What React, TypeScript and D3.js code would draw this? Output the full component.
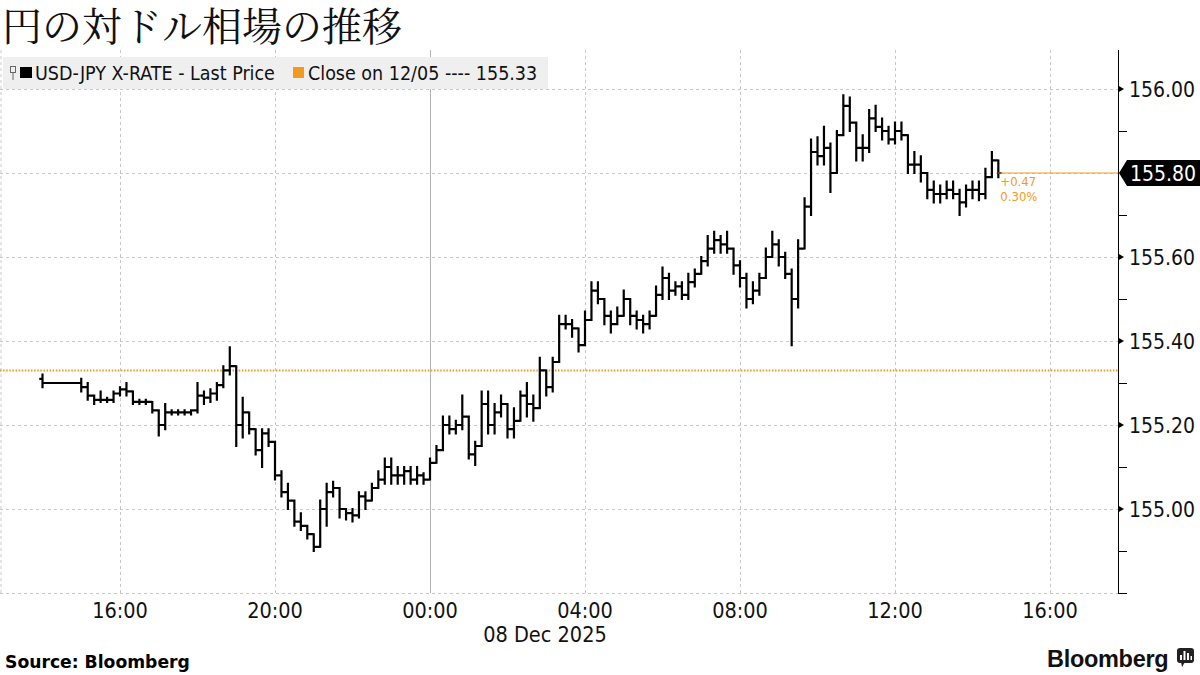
import React from 'react';
import * as d3 from 'd3';

// ---- data (10-minute bars, USD-JPY) ----
const startTime = new Date(2025, 11, 7, 14, 0);
const barMinutes = 10;
const firstOpen = 155.31;
const highs = [
  155.32, 155.30, 155.30, 155.30, 155.30, 155.30,
  155.31, 155.30, 155.27, 155.28, 155.265, 155.28,
  155.29, 155.30, 155.28, 155.26, 155.26, 155.255,
  155.235, 155.25, 155.235, 155.235, 155.235, 155.235,
  155.30, 155.28, 155.285, 155.30, 155.34, 155.385,
  155.34, 155.265, 155.23, 155.19, 155.19, 155.19,
  155.16, 155.09, 155.06, 155.02, 154.99, 154.96,
  154.94, 155.02, 155.06, 155.065, 155.05, 155.00,
  155.00, 155.04, 155.04, 155.06, 155.09, 155.12,
  155.12, 155.10, 155.10, 155.10, 155.10, 155.085,
  155.12, 155.15, 155.22, 155.22, 155.21, 155.27,
  155.22, 155.16, 155.28, 155.28, 155.25, 155.27,
  155.25, 155.24, 155.28, 155.30, 155.27, 155.36,
  155.33, 155.36, 155.46, 155.46, 155.45, 155.43,
  155.47, 155.54, 155.54, 155.50, 155.47, 155.48,
  155.52, 155.50, 155.47, 155.46, 155.47, 155.53,
  155.575, 155.56, 155.54, 155.54, 155.56, 155.57,
  155.60, 155.65, 155.66, 155.65, 155.66, 155.62,
  155.59, 155.56, 155.54, 155.56, 155.62, 155.66,
  155.64, 155.61, 155.57, 155.64, 155.74, 155.88,
  155.885, 155.91, 155.87, 155.90, 155.985, 155.98,
  155.92, 155.89, 155.95, 155.96, 155.93, 155.91,
  155.92, 155.92, 155.89, 155.85, 155.84, 155.80,
  155.78, 155.77, 155.78, 155.78, 155.76, 155.77,
  155.78, 155.78, 155.81, 155.85, 155.83,
];
const lows = [
  155.29, 155.30, 155.30, 155.30, 155.30, 155.30,
  155.28, 155.26, 155.25, 155.255, 155.255, 155.255,
  155.27, 155.27, 155.25, 155.25, 155.25, 155.23,
  155.175, 155.19, 155.225, 155.225, 155.225, 155.225,
  155.23, 155.25, 155.255, 155.26, 155.29, 155.32,
  155.15, 155.17, 155.18, 155.13, 155.10, 155.15,
  155.07, 155.03, 155.00, 154.96, 154.95, 154.93,
  154.90, 154.91, 154.96, 155.03, 154.98, 154.975,
  154.97, 154.98, 155.00, 155.02, 155.05, 155.06,
  155.06, 155.06, 155.06, 155.06, 155.06, 155.06,
  155.07, 155.11, 155.14, 155.18, 155.18, 155.19,
  155.12, 155.105, 155.15, 155.18, 155.18, 155.22,
  155.17, 155.17, 155.21, 155.22, 155.21, 155.24,
  155.27, 155.28, 155.35, 155.43, 155.41, 155.375,
  155.39, 155.45, 155.49, 155.44, 155.42, 155.44,
  155.46, 155.44, 155.43, 155.42, 155.43, 155.46,
  155.50, 155.50, 155.51, 155.50, 155.50, 155.53,
  155.56, 155.58, 155.61, 155.61, 155.61, 155.56,
  155.53, 155.48, 155.49, 155.51, 155.55, 155.60,
  155.58, 155.55, 155.39, 155.48, 155.62, 155.70,
  155.82, 155.82, 155.755, 155.80, 155.89, 155.90,
  155.83, 155.83, 155.85, 155.90, 155.88, 155.87,
  155.87, 155.88, 155.80, 155.80, 155.78, 155.74,
  155.73, 155.73, 155.74, 155.74, 155.70, 155.72,
  155.74, 155.735, 155.74, 155.79, 155.79,
];
const closes = [
  155.30, 155.30, 155.30, 155.30, 155.30, 155.30,
  155.29, 155.27, 155.26, 155.26, 155.26, 155.275,
  155.285, 155.28, 155.255, 155.255, 155.255, 155.235,
  155.20, 155.23, 155.23, 155.23, 155.23, 155.235,
  155.27, 155.265, 155.275, 155.295, 155.33, 155.34,
  155.20, 155.23, 155.19, 155.14, 155.18, 155.16,
  155.08, 155.04, 155.02, 154.97, 154.96, 154.94,
  154.91, 155.00, 155.04, 155.05, 155.00, 154.99,
  154.985, 155.03, 155.02, 155.05, 155.07, 155.10,
  155.08, 155.08, 155.09, 155.07, 155.08, 155.07,
  155.11, 155.14, 155.20, 155.19, 155.20, 155.22,
  155.13, 155.15, 155.25, 155.20, 155.23, 155.25,
  155.19, 155.21, 155.27, 155.25, 155.24, 155.33,
  155.29, 155.35, 155.44, 155.44, 155.43, 155.39,
  155.45, 155.52, 155.50, 155.46, 155.44, 155.46,
  155.50, 155.46, 155.45, 155.44, 155.46, 155.51,
  155.55, 155.52, 155.53, 155.51, 155.54, 155.56,
  155.59, 155.62, 155.64, 155.63, 155.62, 155.58,
  155.55, 155.50, 155.52, 155.55, 155.60, 155.63,
  155.60, 155.56, 155.50, 155.62, 155.72, 155.85,
  155.84, 155.86, 155.80, 155.89, 155.96, 155.92,
  155.86, 155.86, 155.93, 155.91, 155.90, 155.88,
  155.90, 155.89, 155.82, 155.82, 155.80, 155.76,
  155.75, 155.75, 155.76, 155.75, 155.73, 155.76,
  155.76, 155.75, 155.79, 155.83, 155.80,
];
const previousClose = 155.33;
const lastPrice = 155.80;
const changeLabels = ['+0.47', '0.30%'];
const yMajorTicks = [155.0, 155.2, 155.4, 155.6, 155.8, 156.0];
const yMinorTicks = [154.8, 154.9, 155.1, 155.3, 155.5, 155.7, 155.9];
const xTickFormat = '%H:%M';
const dateLabel = '08 Dec 2025';
const title = '円の対ドル相場の推移';
const seriesLabel = 'USD-JPY X-RATE - Last Price';
const closeLabel = 'Close on 12/05 ---- 155.33';

const W = 1200;
const H = 675;
const ORANGE = '#f39a1e';
const COND = "'DejaVu Sans Condensed', 'DejaVu Sans', sans-serif";

export default function App() {
  const plotLeft = 0, plotRight = 1118, plotTop = 50, plotBottom = 593;
  const x = d3.scaleTime()
    .domain([new Date(2025, 11, 7, 16, 0), new Date(2025, 11, 8, 16, 0)])
    .range([120, 1050]);
  const y = d3.scaleLinear().domain([154.8, 156.0]).range([plotBottom, 89]);

  const bars = closes.map((c, i) => {
    const o = i === 0 ? firstOpen : closes[i - 1];
    return {
      t: d3.timeMinute.offset(startTime, i * barMinutes),
      o, h: Math.max(highs[i], o, c), l: Math.min(lows[i], o, c), c,
    };
  });
  const half = (x(d3.timeMinute.offset(startTime, barMinutes)) - x(startTime)) / 2;
  const barPath = bars.map(b => {
    const xc = x(b.t);
    return `M${xc},${y(b.h) - 1}V${y(b.l) + 1}M${xc - half},${y(b.o)}H${xc}M${xc},${y(b.c)}H${xc + half}`;
  }).join('');

  const xTicks = d3.timeHour.every(4)!.range(x.invert(plotLeft), x.invert(plotRight));
  const fmt = d3.timeFormat(xTickFormat);
  const lastX = x(bars[bars.length - 1].t);

  return (
    <svg width={W} height={H} style={{ position: 'absolute', left: 0, top: 0, background: '#fff' }}>
      <rect x={0} y={0} width={W} height={H} fill="#fff" />
      <text x={2} y={41} fontSize={40} fontFamily="'Noto Serif CJK JP', 'Noto Sans CJK JP', serif" fill="#111">{title}</text>

      {/* grid */}
      <line x1={1} x2={1} y1={plotTop} y2={plotBottom} stroke="#c8c8c8" strokeDasharray="3,3" />
      {xTicks.map((t, i) => {
        const midnight = t.getHours() === 0;
        return (
          <line key={'vx' + i} x1={Math.round(x(t)) + 0.5} x2={Math.round(x(t)) + 0.5} y1={plotTop} y2={plotBottom}
            stroke={midnight ? '#b4b4b4' : '#c8c8c8'} strokeDasharray={midnight ? undefined : '3,3'} />
        );
      })}
      {[...yMajorTicks, 154.8].map((v, i) => (
        <line key={'hy' + i} x1={plotLeft} x2={plotRight} y1={Math.round(y(v)) + 0.5} y2={Math.round(y(v)) + 0.5}
          stroke="#c8c8c8" strokeDasharray="3,3" />
      ))}

      {/* legend */}
      <rect x={3} y={57} width={545} height={32} fill="#efefef" />
      <rect x={10.5} y={66.5} width={5} height={6} fill="none" stroke="#666" strokeWidth={1} />
      <line x1={13} x2={13} y1={72.5} y2={80} stroke="#666" />
      <rect x={20} y={67} width={12} height={11} fill="#000" />
      <text x={35} y={79.5} fontSize={19.5} fontFamily={COND} fill="#111">{seriesLabel}</text>
      <rect x={293} y={67} width={11} height={11} fill={ORANGE} />
      <text x={308} y={79.5} fontSize={19.5} fontFamily={COND} fill="#111">{closeLabel}</text>

      {/* previous close */}
      <line x1={plotLeft} x2={plotRight} y1={y(previousClose)} y2={y(previousClose)} stroke={ORANGE}
        strokeWidth={2} strokeDasharray="1.5,1.6" />

      {/* bars */}
      <path d={barPath} fill="none" stroke="#000" strokeWidth={2.2} />

      {/* last price */}
      <line x1={lastX} x2={plotRight} y1={y(lastPrice)} y2={y(lastPrice)} stroke={ORANGE} strokeWidth={1} />
      <text x={lastX + 2} y={y(lastPrice) + 13} fontSize={13} fontFamily={COND} fill={ORANGE}>{changeLabels[0]}</text>
      <text x={lastX + 2} y={y(lastPrice) + 28} fontSize={13} fontFamily={COND} fill={ORANGE}>{changeLabels[1]}</text>

      {/* y axis */}
      <line x1={plotRight + 0.5} x2={plotRight + 0.5} y1={plotTop} y2={plotBottom + 1} stroke="#000" />
      {yMinorTicks.map((v, i) => (
        <line key={'mt' + i} x1={plotRight} x2={plotRight + 9} y1={Math.round(y(v)) + 0.5} y2={Math.round(y(v)) + 0.5} stroke="#000" />
      ))}
      {yMajorTicks.filter(v => v !== lastPrice).map((v, i) => (
        <g key={'yt' + i}>
          <path d={`M${plotRight},${y(v) - 3.5}L${plotRight + 6},${y(v)}L${plotRight},${y(v) + 3.5}Z`} fill="#000" />
          <text x={1129} y={y(v) + 7.5} fontSize={21} fontFamily={COND} fill="#111">{v.toFixed(2)}</text>
        </g>
      ))}
      <path d={`M${plotRight + 1},${y(lastPrice)}L${plotRight + 9},${y(lastPrice) - 13}H${W}V${y(lastPrice) + 13}H${plotRight + 9}Z`} fill="#000" />
      <text x={1130} y={y(lastPrice) + 7.5} fontSize={21} fontFamily={COND} fill="#fff">{lastPrice.toFixed(2)}</text>

      {/* x axis labels */}
      {xTicks.map((t, i) => (
        <text key={'xl' + i} x={x(t)} y={618} textAnchor="middle" fontSize={21.5} fontFamily={COND} fill="#111">{fmt(t)}</text>
      ))}
      <text x={545} y={642} textAnchor="middle" fontSize={21.5} fontFamily={COND} fill="#111">{dateLabel}</text>

      {/* footer */}
      <text x={5} y={668} fontSize={17.2} fontWeight="bold" fontFamily="'DejaVu Sans', sans-serif" fill="#000">Source: Bloomberg</text>
      <text x={1047} y={667} fontSize={23.5} fontWeight="bold" fontFamily="'Liberation Sans', Arial, sans-serif" fill="#111" letterSpacing={-0.3}>Bloomberg</text>
      <g>
        <rect x={1177} y={648} width={17} height={15} rx={3} fill="#222" />
        <path d="M1181,662 L1185,662 L1182,667 Z" fill="#222" />
        <rect x={1180} y={655} width={2} height={5} fill="#fff" />
        <rect x={1183.5} y={651} width={2} height={9} fill="#fff" />
        <rect x={1187} y={653} width={2} height={7} fill="#fff" />
        <rect x={1190.5} y={656} width={1.5} height={4} fill="#fff" />
      </g>
    </svg>
  );
}
